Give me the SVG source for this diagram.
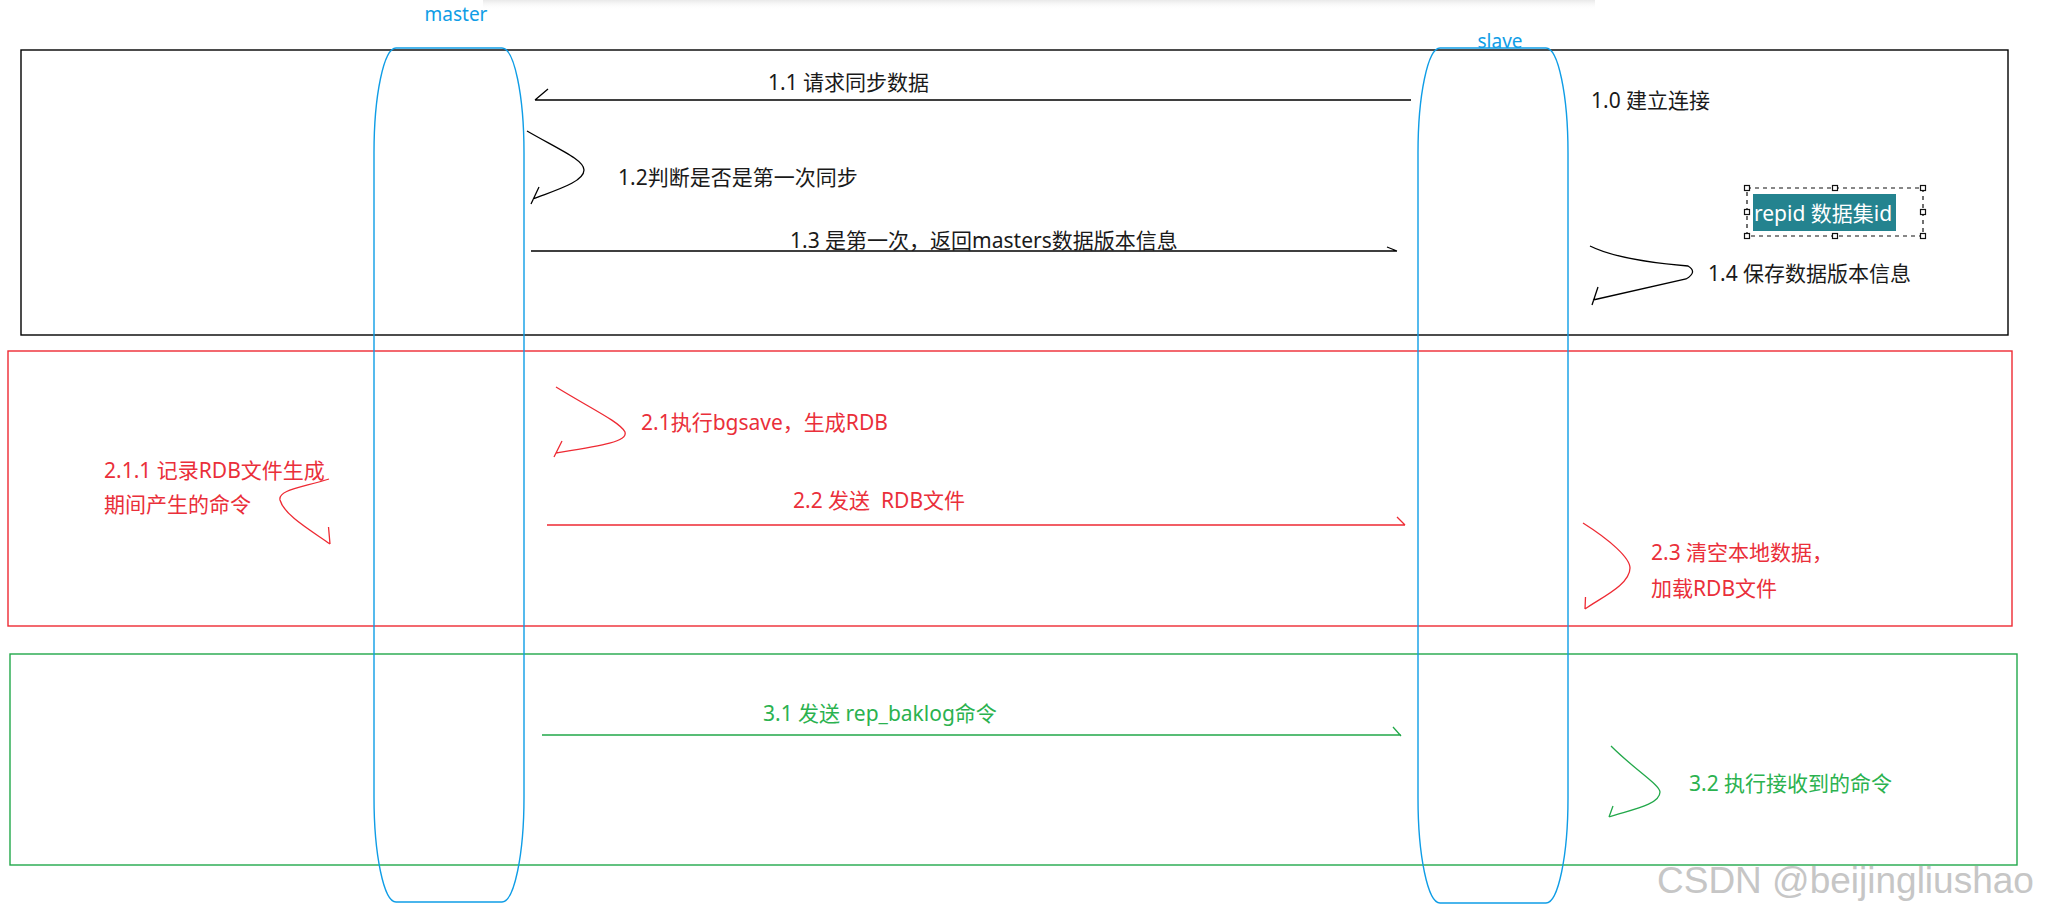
<svg xmlns="http://www.w3.org/2000/svg" width="2049" height="916" viewBox="0 0 2049 916">
  <defs>
    <linearGradient id="topShade" x1="0" y1="0" x2="0" y2="1">
      <stop offset="0" stop-color="#e9e9e9"/>
      <stop offset="1" stop-color="#ffffff" stop-opacity="0"/>
    </linearGradient>
    <style>
      .lbl { font-family: "Noto Sans", "Noto Sans CJK SC", sans-serif; font-size: 21px; }
      .blk { fill: #1a1a1a; }
      .red { fill: #ea2f3a; }
      .grn { fill: #2bb24f; }
      .life { fill: none; stroke: #0f9de6; stroke-width: 1.4; }
      .lifetxt { font-family: "Noto Sans", sans-serif; font-size: 19px; fill: #0f9de6; }
      .frame { fill: none; stroke-width: 1.4; }
      .cb { fill: none; stroke: #000; stroke-width: 1.3; }
      .cr { fill: none; stroke: #ee2a33; stroke-width: 1.3; }
      .cg { fill: none; stroke: #22a84a; stroke-width: 1.3; }
      .handle { fill: #fff; stroke: #111; stroke-width: 1.2; }
    </style>
  </defs>

  <rect width="2049" height="916" fill="#fff"/>
  <rect x="483" y="0" width="1112" height="10" fill="url(#topShade)"/>

  <!-- section frames -->
  <g id="phase1-frame">
    <rect class="frame" x="21" y="50" width="1987" height="285" stroke="#000"/>
  </g>
  <g id="phase2-frame">
    <rect class="frame" x="8" y="351" width="2004" height="275" stroke="#ee2a33"/>
  </g>
  <g id="phase3-frame">
    <rect class="frame" x="10" y="654" width="2007" height="211" stroke="#22a84a"/>
  </g>

  <!-- lifelines -->
  <g id="master">
    <text class="lifetxt" x="456" y="21" text-anchor="middle">master</text>
    <path class="life" d="M396,48 H502 A22,105 0 0 1 524,153 V797 A22,105 0 0 1 502,902 H396 A22,105 0 0 1 374,797 V153 A22,105 0 0 1 396,48 Z"/>
  </g>
  <g id="slave">
    <text class="lifetxt" x="1500" y="48" text-anchor="middle">slave</text>
    <path class="life" d="M1440,48 H1546 A22,105 0 0 1 1568,153 V798 A22,105 0 0 1 1546,903 H1440 A22,105 0 0 1 1418,798 V153 A22,105 0 0 1 1440,48 Z"/>
  </g>

  <!-- connectors -->
  <g id="connectors">
    <path class="cb" d="M1411,100 H535 M535,100 L548,89"/>
    <path class="cb" d="M527,131 C560,150 584,160 584,170 C584,182 556,190 533,199 M539,187 L531,204"/>
    <path class="cb" d="M531,251 H1397 M1387,247 L1397,251"/>
    <path class="cb" d="M1590,246 C1610,256 1640,262 1688,266 Q1698,272 1686,279 L1593,300 M1598,287 L1592,305"/>
    <path class="cr" d="M556,387 C590,408 620,422 625,432 C628,442 600,446 556,453 M562,441 L554,457"/>
    <path class="cr" d="M329,479 C300,488 278,490 280,500 C284,515 310,530 330,544 M328.5,527 L330,544"/>
    <path class="cr" d="M547,525 H1405 M1397,517 L1405,525"/>
    <path class="cr" d="M1583,523 C1610,540 1630,558 1630,568 C1630,585 1600,598 1585,609 M1585.5,597 L1585,609"/>
    <path class="cg" d="M542,735 H1401 M1393,727 L1401,736"/>
    <path class="cg" d="M1611,746 C1635,770 1660,785 1660,792 C1660,805 1630,810 1609,817 M1613,806 L1609,817"/>
  </g>

  <!-- labels -->
  <g id="label-1-0"><text class="lbl blk" x="1591" y="108">1.0 建立连接</text></g>
  <g id="label-1-1"><text class="lbl blk" x="768" y="90">1.1 请求同步数据</text></g>
  <g id="label-1-2"><text class="lbl blk" x="618" y="185">1.2判断是否是第一次同步</text></g>
  <g id="label-1-3"><text class="lbl blk" x="790" y="248">1.3 是第一次，返回masters数据版本信息</text></g>
  <g id="label-1-4"><text class="lbl blk" x="1708" y="281">1.4 保存数据版本信息</text></g>

  <g id="repid-box">
    <rect x="1747" y="188" width="176" height="48" fill="none" stroke="#111" stroke-width="1.2" stroke-dasharray="4 4"/>
    <rect x="1753" y="194" width="143" height="37" fill="#24838f"/>
    <text class="lbl" x="1754" y="221" fill="#ffffff">repid 数据集id</text>
    <rect class="handle" x="1744.5" y="185.5" width="5" height="5"/>
    <rect class="handle" x="1832.5" y="185.5" width="5" height="5"/>
    <rect class="handle" x="1920.5" y="185.5" width="5" height="5"/>
    <rect class="handle" x="1744.5" y="209.5" width="5" height="5"/>
    <rect class="handle" x="1920.5" y="209.5" width="5" height="5"/>
    <rect class="handle" x="1744.5" y="233.5" width="5" height="5"/>
    <rect class="handle" x="1832.5" y="233.5" width="5" height="5"/>
    <rect class="handle" x="1920.5" y="233.5" width="5" height="5"/>
  </g>

  <g id="label-2-1"><text class="lbl red" x="641" y="430">2.1执行bgsave，生成RDB</text></g>
  <g id="label-2-1-1">
    <text class="lbl red" x="104" y="478">2.1.1 记录RDB文件生成</text>
    <text class="lbl red" x="104" y="512">期间产生的命令</text>
  </g>
  <g id="label-2-2"><text class="lbl red" x="793" y="508" xml:space="preserve">2.2 发送  RDB文件</text></g>
  <g id="label-2-3">
    <text class="lbl red" x="1651" y="560">2.3 清空本地数据，</text>
    <text class="lbl red" x="1651" y="596">加载RDB文件</text>
  </g>

  <g id="label-3-1"><text class="lbl grn" x="763" y="721">3.1 发送 rep_baklog命令</text></g>
  <g id="label-3-2"><text class="lbl grn" x="1689" y="791">3.2 执行接收到的命令</text></g>

  <text x="1657" y="893" font-family="'Liberation Sans', Arial, sans-serif" font-size="37" fill="#c6c6c6">CSDN @beijingliushao</text>
</svg>
